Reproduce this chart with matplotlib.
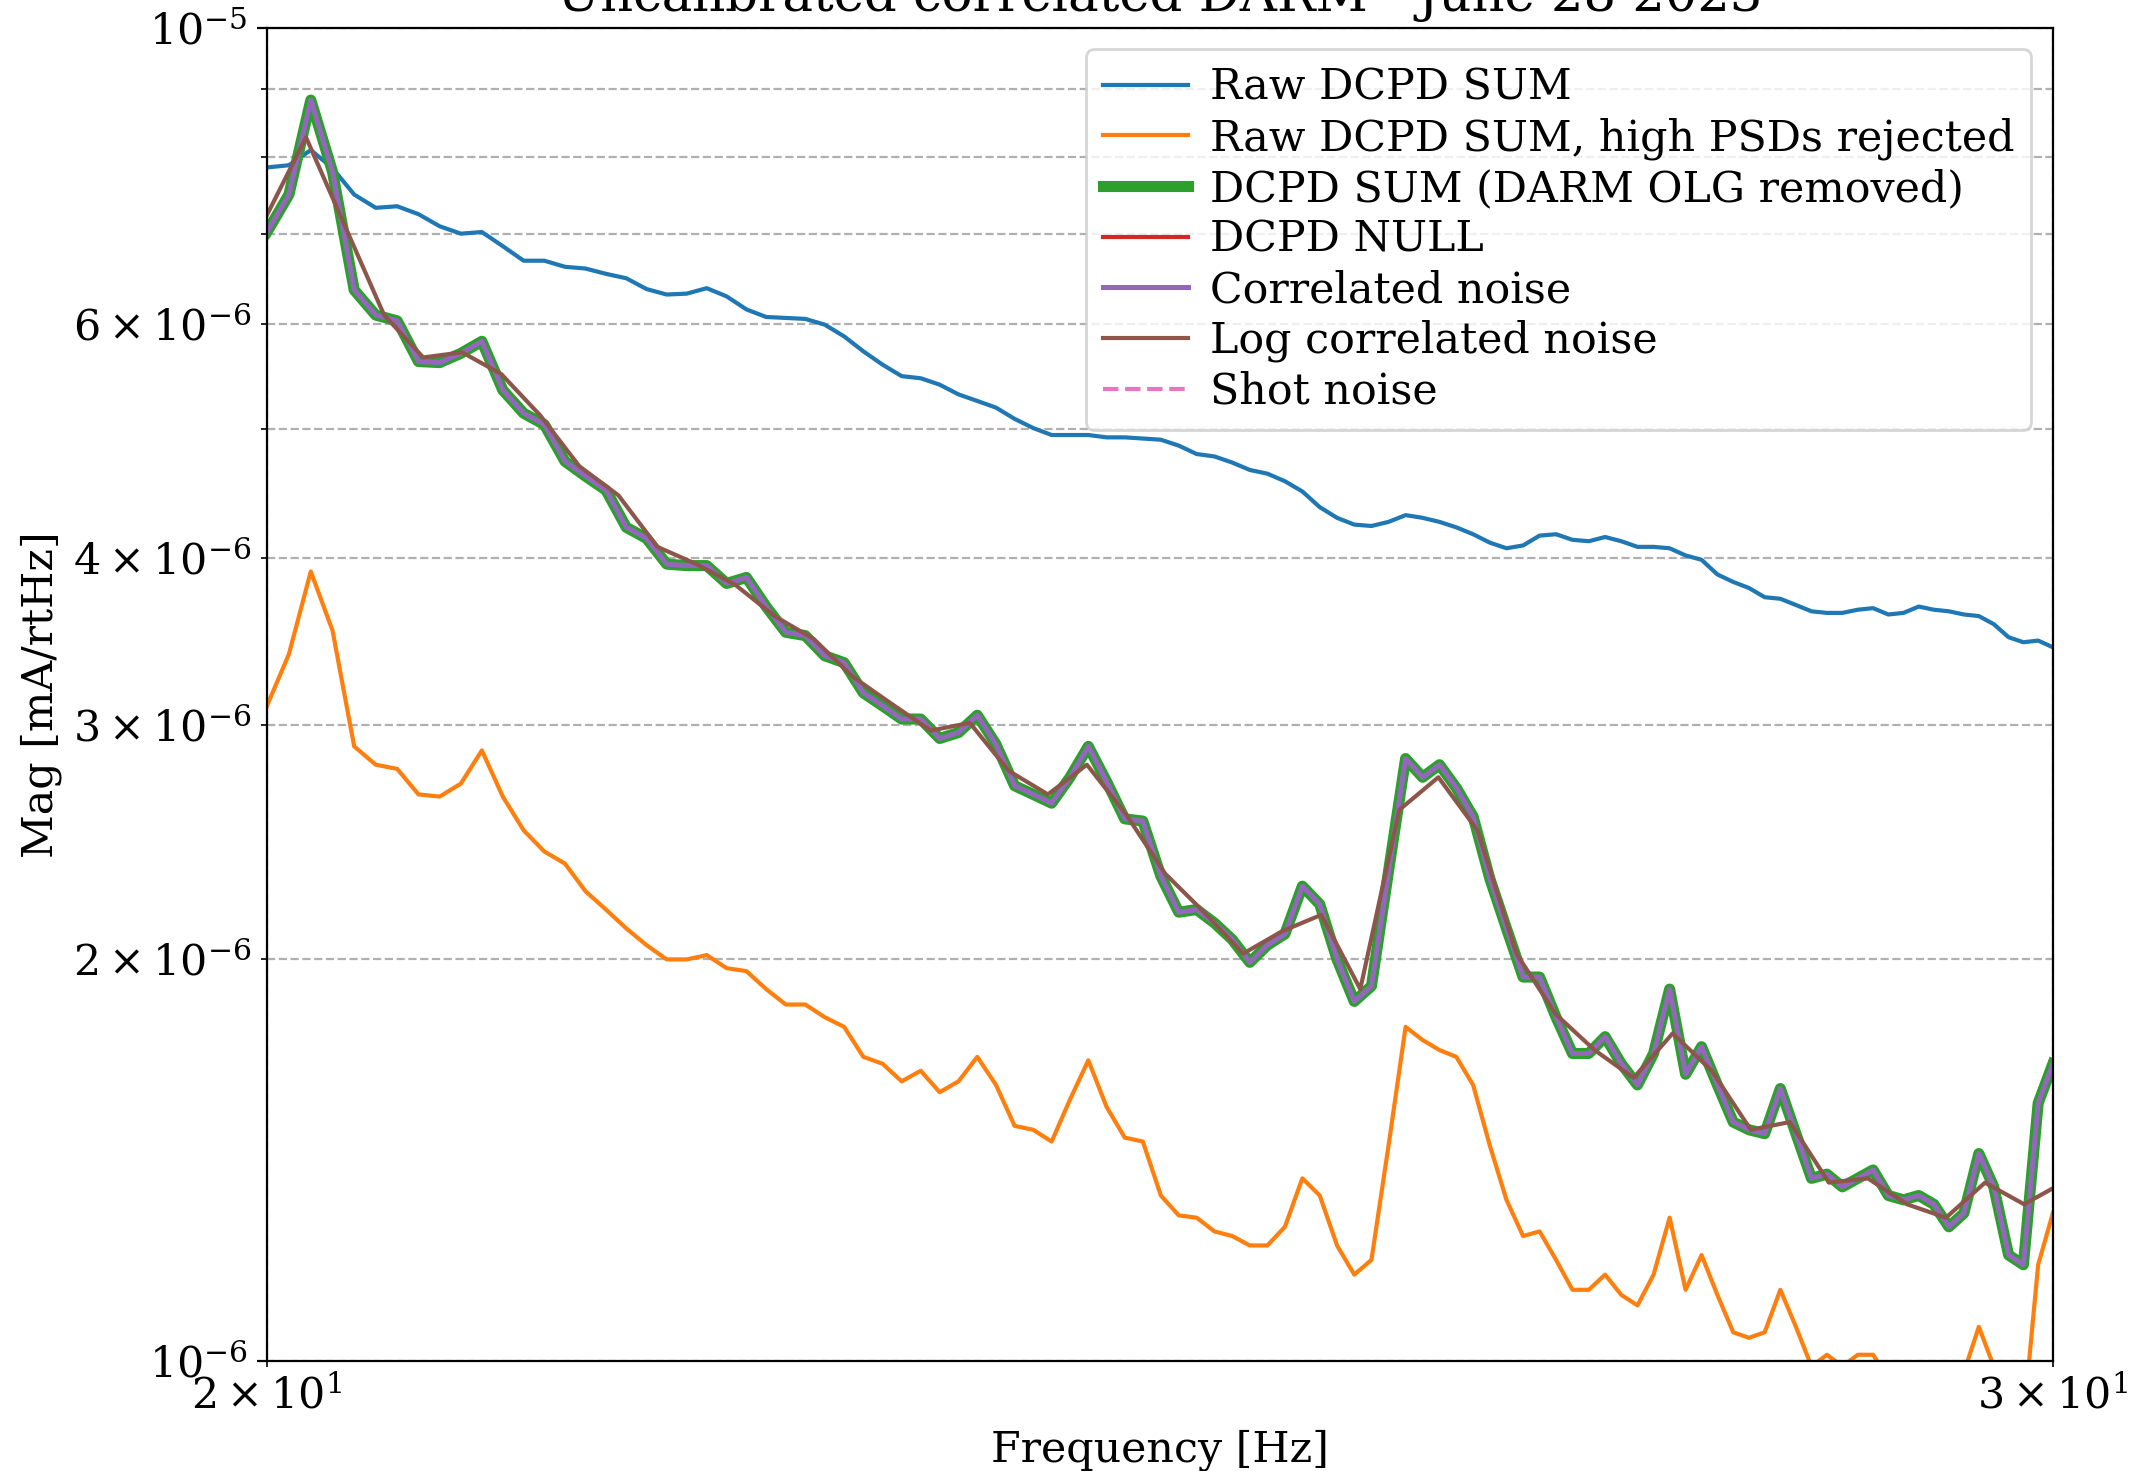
import numpy as np
import matplotlib.pyplot as plt

plt.rcParams['font.family'] = 'serif'
plt.rcParams['font.size'] = 15.4

# frequency grids [Hz]
freq = np.linspace(20, 30, 101)          # 0.1 Hz bins
log_freq = np.geomspace(20, 30.07, 47)   # log-binned estimate

# magnitudes, in units of 1e-6 mA/rtHz
raw_sum = [7.86, 7.89, 8.10, 7.85, 7.50, 7.33, 7.35, 7.25, 7.10, 7.01,
           7.03, 6.86, 6.69, 6.69, 6.62, 6.60, 6.54, 6.49, 6.37, 6.31,
           6.32, 6.38, 6.29, 6.15, 6.07, 6.06, 6.05, 5.99, 5.87, 5.72,
           5.59, 5.48, 5.46, 5.40, 5.31, 5.25, 5.19, 5.09, 5.01, 4.95,
           4.95, 4.95, 4.93, 4.93, 4.92, 4.91, 4.86, 4.79, 4.77, 4.72,
           4.66, 4.63, 4.57, 4.49, 4.37, 4.29, 4.24, 4.23, 4.26, 4.31,
           4.29, 4.26, 4.22, 4.17, 4.11, 4.07, 4.09, 4.16, 4.17, 4.13,
           4.12, 4.15, 4.12, 4.08, 4.08, 4.07, 4.02, 3.99, 3.89, 3.84,
           3.80, 3.74, 3.73, 3.69, 3.65, 3.64, 3.64, 3.66, 3.67, 3.63,
           3.64, 3.68, 3.66, 3.65, 3.63, 3.62, 3.57, 3.49, 3.46, 3.47,
           3.43]

raw_rej = [3.10, 3.39, 3.91, 3.53, 2.89, 2.80, 2.78, 2.66, 2.65, 2.71,
           2.87, 2.65, 2.50, 2.41, 2.36, 2.25, 2.18, 2.11, 2.05, 2.00,
           2.00, 2.015, 1.97, 1.96, 1.90, 1.85, 1.85, 1.81, 1.78, 1.69,
           1.67, 1.62, 1.65, 1.59, 1.62, 1.69, 1.61, 1.50, 1.49, 1.46,
           1.57, 1.68, 1.55, 1.47, 1.46, 1.33, 1.285, 1.28, 1.25, 1.24,
           1.22, 1.22, 1.26, 1.37, 1.33, 1.22, 1.16, 1.19, 1.45, 1.78,
           1.74, 1.71, 1.69, 1.61, 1.45, 1.32, 1.24, 1.25, 1.19, 1.13,
           1.13, 1.16, 1.12, 1.10, 1.16, 1.28, 1.13, 1.20, 1.12, 1.05,
           1.04, 1.05, 1.13, 1.06, 0.99, 1.01, 0.99, 1.01, 1.01, 0.97,
           0.95, 0.94, 0.95, 0.96, 0.98, 1.06, 0.99, 0.95, 0.90, 1.18,
           1.29]

sum_olg = [7.03, 7.50, 8.83, 7.80, 6.36, 6.09, 6.03, 5.62, 5.61, 5.70,
           5.82, 5.35, 5.14, 5.04, 4.73, 4.61, 4.50, 4.22, 4.14, 3.96,
           3.95, 3.95, 3.83, 3.87, 3.68, 3.52, 3.50, 3.38, 3.34, 3.17,
           3.10, 3.03, 3.03, 2.93, 2.96, 3.05, 2.90, 2.70, 2.66, 2.62,
           2.74, 2.89, 2.72, 2.55, 2.54, 2.31, 2.17, 2.18, 2.13, 2.07,
           1.99, 2.05, 2.09, 2.27, 2.20, 2.00, 1.86, 1.91, 2.33, 2.83,
           2.74, 2.80, 2.69, 2.56, 2.30, 2.11, 1.94, 1.94, 1.81, 1.70,
           1.70, 1.75, 1.67, 1.61, 1.70, 1.90, 1.64, 1.72, 1.61, 1.51,
           1.49, 1.48, 1.60, 1.48, 1.37, 1.38, 1.35, 1.37, 1.39, 1.33,
           1.32, 1.33, 1.31, 1.26, 1.29, 1.43, 1.35, 1.20, 1.18, 1.56,
           1.67]

corr_noise = sum_olg  # same curve, drawn on top of the thick green one

log_corr = [7.24, 8.28, 7.10, 6.09, 5.66, 5.71, 5.50, 5.12, 4.69, 4.46,
            4.08, 3.96, 3.82, 3.62, 3.48, 3.26, 3.11, 2.97, 3.01, 2.77,
            2.66, 2.80, 2.57, 2.32, 2.17, 2.02, 2.10, 2.16, 1.90, 2.59,
            2.74, 2.50, 2.02, 1.82, 1.71, 1.63, 1.76, 1.65, 1.49, 1.51,
            1.36, 1.37, 1.31, 1.28, 1.36, 1.31, 1.36]

# below the plotted range
null_freq = [20, 25, 30]
dcpd_null = [0.16, 0.14, 0.13]
shot_freq = [20, 30]
shot = [0.11, 0.11]

sc = 1e-6

fig = plt.figure(figsize=(10.73, 7.355), dpi=200)
ax = fig.add_axes([0.1244, 0.0751, 0.8322, 0.9058])

ax.plot(freq, np.array(raw_sum) * sc, color='C0', lw=1.5, label='Raw DCPD SUM')
ax.plot(freq, np.array(raw_rej) * sc, color='C1', lw=1.5, label='Raw DCPD SUM, high PSDs rejected')
ax.plot(freq, np.array(sum_olg) * sc, color='C2', lw=4, label='DCPD SUM (DARM OLG removed)')
ax.plot(null_freq, np.array(dcpd_null) * sc, color='C3', lw=1.5, label='DCPD NULL')
ax.plot(freq, np.array(corr_noise) * sc, color='C4', lw=1.8, label='Correlated noise')
ax.plot(log_freq, np.array(log_corr) * sc, color='C5', lw=1.5, label='Log correlated noise')
ax.plot(shot_freq, np.array(shot) * sc, color='C6', lw=1.5, ls='--', label='Shot noise')

ax.set_xscale('log')
ax.set_yscale('log')
ax.set_xlim(20, 30)
ax.set_ylim(1e-6, 1e-5)
ax.grid(True, which='both', ls='--')
ax.set_xlabel('Frequency [Hz]')
ax.set_ylabel('Mag [mA/rtHz]')
ax.set_title('Uncalibrated correlated DARM - June 28 2023')
ax.legend(loc='upper right', labelspacing=0.2, handletextpad=0.5)

fig.savefig('out.png', dpi=200)
